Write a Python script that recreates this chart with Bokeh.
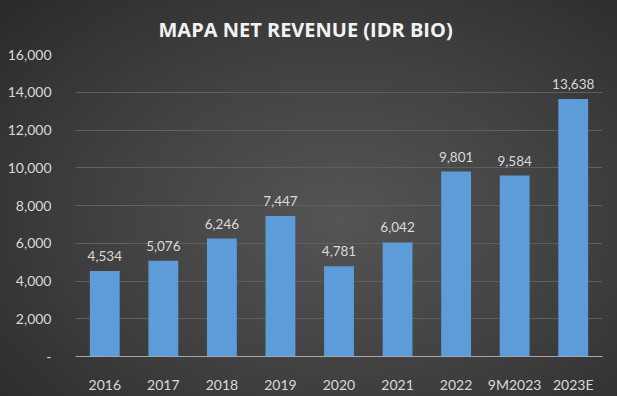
from bokeh.plotting import figure
from bokeh.models import ColumnDataSource, LabelSet, FixedTicker, NumeralTickFormatter
from bokeh.core.properties import value
from bokeh.embed import file_html
from bokeh.resources import INLINE

categories = ["2016", "2017", "2018", "2019", "2020", "2021", "2022", "9M2023", "2023E"]
revenue = [4534, 5076, 6246, 7447, 4781, 6042, 9801, 9584, 13638]
y_ticks = [0, 2000, 4000, 6000, 8000, 10000, 12000, 14000, 16000]
title_text = "MAPA NET REVENUE (IDR BIO)"

labels = [f"{v:,}" for v in revenue]
source = ColumnDataSource(data=dict(cat=categories, val=revenue, lab=labels))

FONT = "Lato"

p = figure(x_range=categories, y_range=(0, 16000), width=617, height=396,
           output_backend="svg", toolbar_location=None, title=title_text,
           min_border_left=75, min_border_right=15, min_border_top=54, min_border_bottom=40)

p.styles = {"background": "radial-gradient(ellipse 75% 80% at 55% 55%, #555555 0%, #414141 50%, #2a2a2a 100%)"}
p.background_fill_alpha = 0
p.border_fill_alpha = 0
p.outline_line_color = None

p.vbar(x="cat", top="val", width=0.51, source=source, fill_color="#5d9cd9", line_color=None)

p.add_layout(LabelSet(x="cat", y="val", text="lab", source=source, y_offset=10,
                      text_align="center", text_baseline="alphabetic",
                      text_font=value(FONT), text_font_size=value("13.5px"),
                      text_color=value("#d9d9d9")))

p.title.align = "left"
p.title.offset = 83
p.title.vertical_align = "middle"
p.title.text_font = "Open Sans"
p.title.text_font_size = "20px"
p.title.text_font_style = "bold"
p.title.text_color = "#f2f2f2"
p.title.standoff = 21

p.yaxis.ticker = FixedTicker(ticks=y_ticks)
p.yaxis.formatter = NumeralTickFormatter(format="0,0")
p.yaxis.major_label_overrides = {0: "-"}
p.yaxis.axis_line_color = None
p.yaxis.major_tick_line_color = None
p.yaxis.minor_tick_line_color = None
p.yaxis.major_label_standoff = 18
p.yaxis.major_label_text_font = FONT
p.yaxis.major_label_text_font_size = "14px"
p.yaxis.major_label_text_color = "#d9d9d9"

p.xaxis.axis_line_color = "#a6a6a6"
p.xaxis.axis_line_width = 1
p.xaxis.major_tick_line_color = None
p.xaxis.minor_tick_line_color = None
p.xaxis.major_label_standoff = 13
p.xaxis.major_label_text_font = FONT
p.xaxis.major_label_text_font_size = "14px"
p.xaxis.major_label_text_color = "#d9d9d9"

p.xgrid.grid_line_color = None
p.ygrid.grid_line_color = "#5f5f5f"
p.ygrid.grid_line_width = 1

p.x_range.range_padding = 0

open("out.html", "w").write(file_html(p, INLINE))
